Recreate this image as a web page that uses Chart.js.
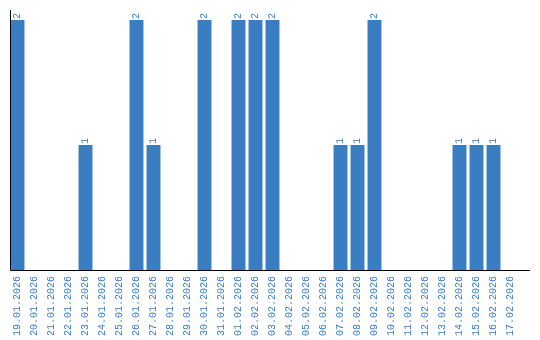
<!DOCTYPE html>
<html><head><meta charset="utf-8">
<script src="https://cdn.jsdelivr.net/npm/chart.js@4"></script>
<style>html,body{margin:0;padding:0;background:#fff}#w{width:540px;height:340px}</style>
</head><body><div id="w"><canvas id="c"></canvas></div>
<script>
const categories = ["19.01.2026","20.01.2026","21.01.2026","22.01.2026","23.01.2026","24.01.2026","25.01.2026","26.01.2026","27.01.2026","28.01.2026","29.01.2026","30.01.2026","31.01.2026","01.02.2026","02.02.2026","03.02.2026","04.02.2026","05.02.2026","06.02.2026","07.02.2026","08.02.2026","09.02.2026","10.02.2026","11.02.2026","12.02.2026","13.02.2026","14.02.2026","15.02.2026","16.02.2026","17.02.2026"];
const counts = [2,0,0,0,1,0,0,2,1,0,0,2,0,2,2,2,0,0,0,1,1,2,0,0,0,0,1,1,1,0];
const BLUE = '#3b7dc1';
const FONT = '"Liberation Mono", "DejaVu Sans Mono", monospace';
const valueLabels = {
  id: 'valueLabels',
  afterDatasetsDraw(chart) {
    const ctx = chart.ctx;
    const meta = chart.getDatasetMeta(0);
    ctx.save();
    ctx.fillStyle = BLUE;
    ctx.font = '10px ' + FONT;
    ctx.textAlign = 'left';
    ctx.textBaseline = 'middle';
    meta.data.forEach((bar, i) => {
      const v = counts[i];
      if (!v) return;
      ctx.save();
      ctx.translate(bar.x, bar.y - 1);
      ctx.rotate(-Math.PI / 2);
      ctx.fillText(String(v), 0, 0);
      ctx.restore();
    });
    ctx.restore();
  }
};
const axisLines = {
  id: 'axisLines',
  afterDraw(chart) {
    const a = chart.chartArea, ctx = chart.ctx;
    const yb = Math.round(a.bottom) + 0.5;
    const xl = Math.round(a.left) + 1.5;
    ctx.save();
    ctx.strokeStyle = '#000';
    ctx.lineWidth = 1;
    ctx.beginPath();
    ctx.moveTo(xl, a.top);
    ctx.lineTo(xl, yb);
    ctx.lineTo(a.right + 11, yb);
    ctx.stroke();
    ctx.restore();
  }
};
new Chart(document.getElementById('c'), {
  type: 'bar',
  data: { labels: categories, datasets: [{ data: counts, backgroundColor: BLUE, barPercentage: 0.82, categoryPercentage: 1.0 }] },
  options: {
    responsive: true, maintainAspectRatio: false, animation: false,
    layout: { padding: { left: 9, right: 21, top: 10, bottom: 0 } },
    plugins: { legend: { display: false }, tooltip: { enabled: false } },
    scales: {
      x: {
        afterFit(scale) { scale.height = 70; },
        grid: { display: false, drawTicks: false },
        border: { display: false },
        ticks: { color: BLUE, font: { family: FONT, size: 10 }, minRotation: 90, maxRotation: 90, autoSkip: false, padding: 6 }
      },
      y: {
        min: 0, max: 2.08,
        afterFit(scale) { scale.width = 0; },
        grid: { display: false, drawTicks: false },
        border: { display: false },
        ticks: { display: false }
      }
    }
  },
  plugins: [valueLabels, axisLines]
});
</script>
</body></html>
